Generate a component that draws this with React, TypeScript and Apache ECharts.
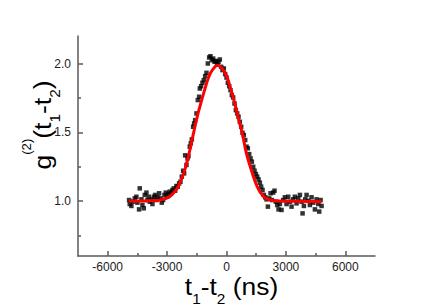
import React, { useEffect, useRef } from "react";
import * as echarts from "echarts";

// Tick positions
const xTicks = [-6000, -3000, 0, 3000, 6000];
const xMinorTicks = [-4500, -1500, 1500, 4500];
const yTicks = [1.0, 1.5, 2.0];
const yMinorTicks = [0.75, 1.25, 1.75];

// Measured g2 points (delay in ns, g2 value)
const delayNs = [
  -4920, -4887, -4802, -4718, -4634, -4550, -4499, -4415, -4381, -4297,
  -4246, -4179, -4128, -4044, -3993, -3926, -3876, -3791, -3741, -3673,
  -3606, -3539, -3488, -3404, -3336, -3269, -3202, -3134, -3067, -2999,
  -2932, -2865, -2797, -2730, -2663, -2595, -2528, -2460, -2393, -2326,
  -2258, -2190, -2140, -2089, -2022, -1971, -1921, -1854, -1803, -1752,
  -1685, -1634, -1584, -1517, -1449, -1382, -1348, -1281, -1213, -1146,
  -1078, -1011, -944, -876, -809, -741, -674, -607, -539, -472,
  -404, -337, -270, -202, -135, -67, 0, 67, 135, 202,
  270, 337, 404, 472, 539, 607, 674, 741, 809, 876,
  944, 1011, 1078, 1146, 1213, 1281, 1348, 1415, 1483, 1550,
  1618, 1685, 1752, 1820, 1887, 1955, 2022, 2089, 2157, 2224,
  2292, 2359, 2426, 2494, 2561, 2629, 2696, 2780, 2865, 2949,
  3033, 3117, 3202, 3286, 3370, 3454, 3539, 3623, 3707, 3791,
  3842, 3909, 3977, 4044, 4128, 4212, 4297, 4381, 4465, 4550,
  4634, 4684, 4752, 4802,
];
const g2 = [
  1.007, 0.978, 0.964, 0.995, 1.019, 1.031, 0.988, 0.939, 1.092, 1.012,
  0.971, 0.947, 1.044, 1.061, 1.007, 1.031, 0.995, 1.012, 0.978, 1.031,
  1.044, 1.007, 1.027, 1.056, 1.019, 0.988, 1.007, 1.044, 1.061, 1.031,
  1.051, 1.068, 1.056, 1.08, 1.092, 1.075, 1.109, 1.104, 1.128, 1.14,
  1.177, 1.22, 1.201, 1.332, 1.262, 1.31, 1.327, 1.395, 1.419, 1.448,
  1.54, 1.564, 1.588, 1.637, 1.734, 1.758, 1.818, 1.835, 1.86, 1.879,
  1.908, 1.932, 2.0, 2.044, 2.053, 2.024, 2.036, 2.012, 2.019, 1.995,
  2.012, 2.029, 1.976, 1.952, 1.964, 1.923, 1.898, 1.86, 1.835, 1.806,
  1.77, 1.753, 1.709, 1.661, 1.637, 1.613, 1.576, 1.54, 1.496, 1.479,
  1.443, 1.395, 1.383, 1.341, 1.31, 1.286, 1.249, 1.22, 1.196, 1.177,
  1.157, 1.133, 1.104, 1.08, 1.044, 1.027, 1.012, 0.959, 1.019, 1.056,
  1.007, 1.061, 1.075, 0.995, 0.971, 0.939, 0.978, 0.935, 1.007, 1.027,
  0.978, 1.031, 0.995, 0.959, 1.012, 1.031, 0.983, 1.019, 1.044, 0.995,
  0.91, 0.964, 1.012, 1.044, 1.002, 0.971, 1.027, 0.988, 0.939, 1.012,
  0.978, 0.923, 1.007, 0.964,
];

// Gaussian fit curve
const fitDelayNs = [
  -4920, -4200, -3600, -3200, -2900, -2700, -2500, -2300, -2100, -1900,
  -1700, -1500, -1300, -1100, -900, -700, -450, -200, 0, 200,
  400, 600, 800, 1000, 1200, 1400, 1600, 1800, 2000, 2300,
  2800, 3600, 4800,
];
const fitG2 = [
  1.0, 1.0, 1.003, 1.012, 1.03, 1.055, 1.09, 1.15, 1.23, 1.34,
  1.47, 1.6, 1.71, 1.81, 1.9, 1.955, 1.985, 1.96, 1.91, 1.82,
  1.72, 1.6, 1.49, 1.35, 1.25, 1.16, 1.09, 1.045, 1.02, 1.005,
  1.0, 0.998, 0.995,
];

const AXIS_COLOR = "#5a5a5a";
const LABEL_FONT = "'Liberation Sans', Arial, sans-serif";

export default function App() {
  const ref = useRef<HTMLDivElement>(null);

  useEffect(() => {
    if (!ref.current) return;
    const chart = echarts.init(ref.current, null, { renderer: "svg" });

    const scatterData = delayNs.map((x, i) => [x, g2[i]]);
    const fitData = fitDelayNs.map((x, i) => [x, fitG2[i]]);

    const rich = {
      m: { fontSize: 24, fontFamily: LABEL_FONT, lineHeight: 34, fill: "#000" },
      s: { fontSize: 14, fontFamily: LABEL_FONT, height: 8, lineHeight: 8, verticalAlign: "bottom", fill: "#000" },
      p: { fontSize: 12, fontFamily: LABEL_FONT, height: 4, lineHeight: 4, verticalAlign: "top", fill: "#000" },
    };

    const lineStyle = { color: AXIS_COLOR, width: 1.5 };

    chart.setOption({
      animation: false,
      backgroundColor: "#fff",
      grid: { left: 78, top: 36, right: 61, bottom: 51 },
      xAxis: [
        {
          type: "value",
          min: -7500,
          max: 7500,
          position: "bottom",
          axisLine: { show: true, onZero: false, lineStyle },
          axisTick: { show: true, inside: true, length: 5, customValues: xTicks, lineStyle },
          axisLabel: {
            customValues: xTicks,
            margin: 5,
            fontSize: 12,
            color: "#222",
            fontFamily: LABEL_FONT,
            formatter: (v: number) => String(Math.round(v)),
          },
          splitLine: { show: false },
        },
        {
          type: "value",
          min: -7500,
          max: 7500,
          position: "bottom",
          axisLine: { show: false, onZero: false },
          axisTick: { show: true, inside: true, length: 3, customValues: xMinorTicks, lineStyle },
          axisLabel: { show: false },
          splitLine: { show: false },
        },
      ],
      yAxis: [
        {
          type: "value",
          min: 0.6,
          max: 2.2,
          position: "left",
          axisLine: { show: true, onZero: false, lineStyle },
          axisTick: { show: true, inside: true, length: 5, customValues: yTicks, lineStyle },
          axisLabel: {
            customValues: yTicks,
            margin: 7,
            fontSize: 12,
            color: "#222",
            fontFamily: LABEL_FONT,
            formatter: (v: number) => v.toFixed(1),
          },
          splitLine: { show: false },
        },
        {
          type: "value",
          min: 0.6,
          max: 2.2,
          position: "left",
          axisLine: { show: false, onZero: false },
          axisTick: { show: true, inside: true, length: 3, customValues: yMinorTicks, lineStyle },
          axisLabel: { show: false },
          splitLine: { show: false },
        },
      ],
      series: [
        {
          type: "scatter",
          xAxisIndex: 0,
          yAxisIndex: 0,
          symbol: "rect",
          symbolSize: 4.5,
          itemStyle: { color: "#000" },
          data: scatterData,
          z: 2,
        },
        {
          type: "line",
          xAxisIndex: 0,
          yAxisIndex: 0,
          smooth: true,
          showSymbol: false,
          symbol: "none",
          lineStyle: { color: "#ff0000", width: 3 },
          data: fitData,
          z: 3,
        },
      ],
      graphic: [
        {
          type: "text",
          x: 231.5,
          y: 286,
          scaleX: 1.1,
          style: {
            text: "{m|t}{s|1}{m|-t}{s|2}{m| (ns)}",
            align: "center",
            verticalAlign: "middle",
            fill: "#000",
            rich,
          },
        },
        {
          type: "text",
          x: 42,
          y: 125,
          rotation: Math.PI / 2,
          scaleX: 1.1,
          style: {
            text: "{m|g}{p|(2)}{m|(t}{s|1}{m|-t}{s|2}{m|)}",
            align: "center",
            verticalAlign: "middle",
            fill: "#000",
            rich,
          },
        },
      ],
    });

    return () => chart.dispose();
  }, []);

  return (
    <div
      ref={ref}
      style={{ position: "absolute", left: 0, top: 0, width: 436, height: 307 }}
    />
  );
}
